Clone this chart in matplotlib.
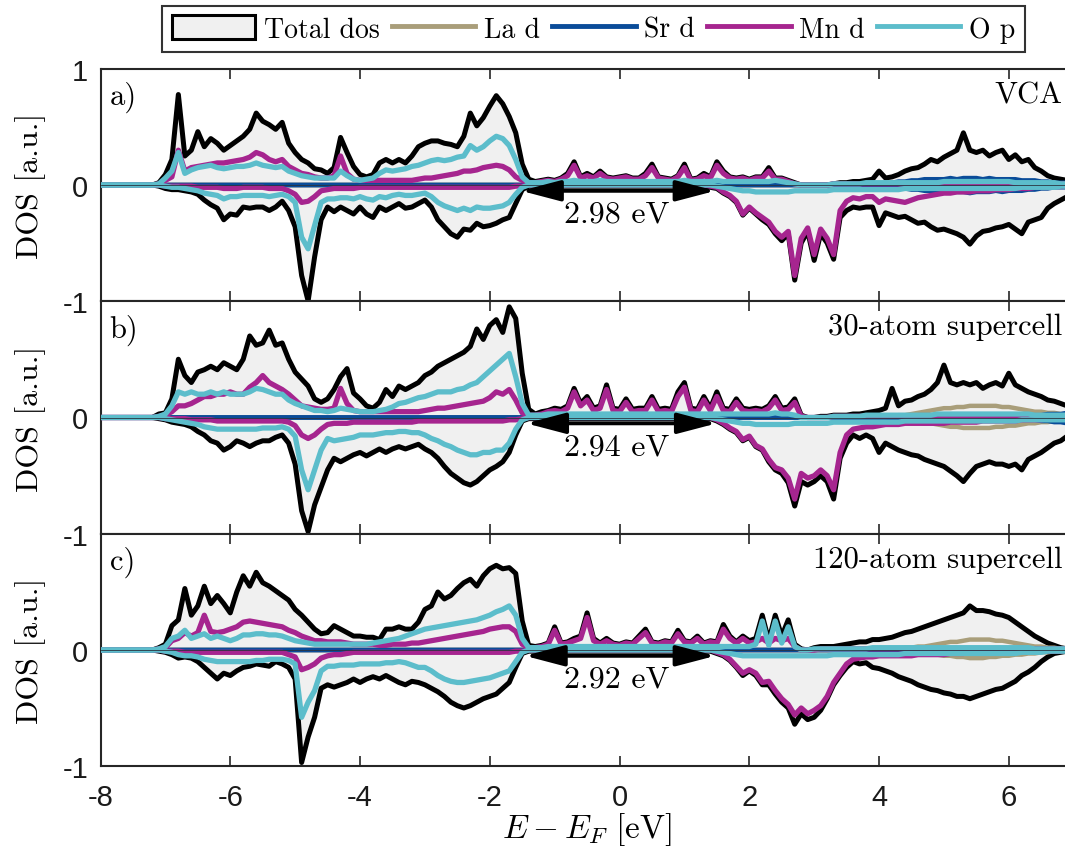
"""Spin-resolved DOS of La/Sr manganite: VCA vs. 30- and 120-atom supercells."""
import numpy as np
import matplotlib
matplotlib.use('Agg')
import matplotlib.pyplot as plt
from matplotlib.patches import Patch
from matplotlib.lines import Line2D

plt.rcParams['font.family'] = 'Liberation Sans'
plt.rcParams['mathtext.fontset'] = 'cm'
plt.rcParams['axes.unicode_minus'] = False

SERIF = 'cmr10'
C_TOT, C_LA, C_SR, C_MN, C_O = '#F0F0F0', '#A99E7A', '#0A4C99', '#A6258F', '#5CBDCB'
INK = '#262626'

E = np.round(np.arange(-80, 71) / 10, 1)
VB0 = -7.1   # full-range lists start here (-7.1 .. 7.0, 142 values)
CB0 = 4.2    # La / Sr lists start here (4.2 .. 7.0, 29 values)

# ---------------------------------------------------------------- a) VCA
TOT_A_UP = [
    0.02, 0.09, 0.22, 0.78, 0.25, 0.30, 0.46, 0.33, 0.40, 0.36,
    0.30, 0.34, 0.38, 0.42, 0.48, 0.62, 0.55, 0.52, 0.48, 0.54,
    0.36, 0.28, 0.22, 0.19, 0.14, 0.13, 0.10, 0.15, 0.41, 0.28,
    0.16, 0.09, 0.07, 0.09, 0.19, 0.22, 0.19, 0.22, 0.19, 0.25,
    0.33, 0.36, 0.38, 0.38, 0.36, 0.35, 0.33, 0.42, 0.62, 0.51,
    0.58, 0.68, 0.77, 0.70, 0.59, 0.45, 0.18, 0.05, 0.03, 0.04,
    0.05, 0.04, 0.06, 0.10, 0.20, 0.07, 0.10, 0.07, 0.12, 0.07,
    0.06, 0.07, 0.08, 0.06, 0.06, 0.10, 0.18, 0.07, 0.06, 0.05,
    0.08, 0.18, 0.05, 0.06, 0.10, 0.07, 0.20, 0.12, 0.07, 0.06,
    0.07, 0.05, 0.07, 0.07, 0.15, 0.06, 0.06, 0.04, 0.02, 0.00,
    0.00, 0.00, 0.00, 0.00, 0.01, 0.02, 0.02, 0.03, 0.03, 0.04,
    0.05, 0.12, 0.06, 0.07, 0.09, 0.12, 0.14, 0.15, 0.18, 0.22,
    0.20, 0.24, 0.27, 0.30, 0.45, 0.30, 0.28, 0.30, 0.25, 0.28,
    0.30, 0.22, 0.26, 0.20, 0.22, 0.15, 0.12, 0.08, 0.06, 0.05,
    0.04, 0.03]
TOT_A_DN = [
    -0.01, -0.03, -0.04, -0.04, -0.05, -0.06, -0.08, -0.13, -0.17, -0.20,
    -0.30, -0.25, -0.26, -0.19, -0.20, -0.19, -0.19, -0.22, -0.19, -0.14,
    -0.22, -0.36, -0.78, -1.00, -0.62, -0.30, -0.19, -0.23, -0.19, -0.22,
    -0.25, -0.19, -0.25, -0.28, -0.19, -0.22, -0.19, -0.16, -0.20, -0.19,
    -0.16, -0.13, -0.19, -0.30, -0.36, -0.42, -0.45, -0.38, -0.39, -0.33,
    -0.36, -0.35, -0.33, -0.30, -0.28, -0.16, -0.04, -0.01, -0.01, -0.01,
    -0.01, -0.01, -0.01, -0.01, -0.01, -0.01, -0.01, -0.01, -0.01, -0.01,
    -0.01, -0.01, -0.01, -0.01, -0.01, -0.01, -0.01, -0.01, -0.01, -0.01,
    -0.01, -0.01, -0.01, -0.01, -0.01, -0.02, -0.03, -0.07, -0.10, -0.15,
    -0.26, -0.20, -0.25, -0.30, -0.34, -0.42, -0.48, -0.42, -0.82, -0.50,
    -0.40, -0.65, -0.42, -0.50, -0.64, -0.28, -0.22, -0.19, -0.20, -0.19,
    -0.19, -0.35, -0.24, -0.26, -0.28, -0.27, -0.30, -0.33, -0.32, -0.36,
    -0.39, -0.38, -0.40, -0.42, -0.45, -0.51, -0.44, -0.40, -0.39, -0.37,
    -0.36, -0.34, -0.38, -0.42, -0.32, -0.30, -0.28, -0.20, -0.16, -0.13,
    -0.10, -0.08]
MN_A_UP = [
    0.01, 0.04, 0.07, 0.30, 0.12, 0.15, 0.16, 0.17, 0.18, 0.19,
    0.19, 0.20, 0.21, 0.22, 0.24, 0.28, 0.26, 0.22, 0.20, 0.22,
    0.16, 0.13, 0.10, 0.09, 0.07, 0.06, 0.06, 0.08, 0.25, 0.10,
    0.05, 0.04, 0.04, 0.04, 0.04, 0.04, 0.04, 0.04, 0.04, 0.04,
    0.05, 0.06, 0.06, 0.07, 0.08, 0.09, 0.10, 0.12, 0.12, 0.13,
    0.15, 0.16, 0.17, 0.16, 0.13, 0.07, 0.04, 0.02, 0.02, 0.03,
    0.04, 0.03, 0.05, 0.08, 0.17, 0.06, 0.08, 0.06, 0.10, 0.06,
    0.05, 0.06, 0.07, 0.05, 0.05, 0.08, 0.15, 0.06, 0.05, 0.04,
    0.07, 0.15, 0.04, 0.05, 0.08, 0.06, 0.17, 0.10, 0.06, 0.05,
    0.06, 0.04, 0.06, 0.06, 0.12, 0.05, 0.05, 0.03, 0.01, 0.00,
    0.00, 0.00, 0.00, 0.00, 0.01, 0.01, 0.01, 0.01, 0.01, 0.01,
    0.01, 0.01, 0.01, 0.01, 0.01, 0.01, 0.01, 0.01, 0.01, 0.01,
    0.01, 0.01, 0.01, 0.01, 0.01, 0.01, 0.01, 0.01, 0.01, 0.01,
    0.01, 0.01, 0.01, 0.01, 0.01, 0.01, 0.01, 0.01, 0.01, 0.01,
    0.01, 0.01]
MN_A_DN = [
    0.00, -0.01, -0.01, -0.01, -0.01, -0.01, -0.02, -0.02, -0.02, -0.02,
    -0.03, -0.03, -0.03, -0.02, -0.02, -0.02, -0.02, -0.03, -0.03, -0.03,
    -0.05, -0.08, -0.15, -0.14, -0.10, -0.05, -0.04, -0.03, -0.03, -0.03,
    -0.03, -0.02, -0.02, -0.02, -0.02, -0.02, -0.02, -0.02, -0.02, -0.02,
    -0.02, -0.02, -0.02, -0.02, -0.02, -0.02, -0.02, -0.02, -0.02, -0.02,
    -0.02, -0.02, -0.02, -0.02, -0.02, -0.01, -0.01, 0.00, 0.00, 0.00,
    0.00, 0.00, 0.00, 0.00, 0.00, 0.00, 0.00, 0.00, 0.00, 0.00,
    0.00, 0.00, 0.00, 0.00, 0.00, 0.00, 0.00, 0.00, 0.00, 0.00,
    0.00, 0.00, 0.00, 0.00, 0.00, -0.01, -0.02, -0.06, -0.09, -0.14,
    -0.25, -0.19, -0.24, -0.28, -0.32, -0.40, -0.45, -0.40, -0.78, -0.46,
    -0.37, -0.60, -0.38, -0.46, -0.60, -0.22, -0.14, -0.11, -0.12, -0.10,
    -0.10, -0.15, -0.12, -0.13, -0.14, -0.15, -0.13, -0.11, -0.10, -0.09,
    -0.08, -0.07, -0.07, -0.06, -0.06, -0.06, -0.05, -0.05, -0.05, -0.04,
    -0.04, -0.04, -0.03, -0.03, -0.03, -0.02, -0.02, -0.02, -0.01, -0.01,
    -0.01, -0.01]
O_A_UP = [
    0.01, 0.06, 0.12, 0.28, 0.10, 0.13, 0.15, 0.16, 0.17, 0.15,
    0.14, 0.15, 0.16, 0.16, 0.17, 0.19, 0.17, 0.16, 0.15, 0.16,
    0.12, 0.10, 0.08, 0.07, 0.06, 0.06, 0.06, 0.06, 0.12, 0.08,
    0.05, 0.04, 0.05, 0.06, 0.10, 0.13, 0.12, 0.13, 0.14, 0.16,
    0.17, 0.19, 0.21, 0.22, 0.21, 0.22, 0.24, 0.25, 0.34, 0.30,
    0.33, 0.38, 0.42, 0.40, 0.34, 0.22, 0.07, 0.02, 0.02, 0.02,
    0.03, 0.02, 0.03, 0.03, 0.04, 0.03, 0.03, 0.03, 0.04, 0.03,
    0.03, 0.03, 0.03, 0.03, 0.03, 0.03, 0.03, 0.03, 0.03, 0.03,
    0.03, 0.04, 0.03, 0.03, 0.03, 0.03, 0.04, 0.03, 0.03, 0.03,
    0.03, 0.03, 0.03, 0.03, 0.03, 0.04, 0.03, 0.02, 0.01, 0.00,
    0.00, 0.00, 0.00, 0.00, 0.01, 0.01, 0.01, 0.01, 0.01, 0.02,
    0.02, 0.02, 0.02, 0.02, 0.02, 0.02, 0.02, 0.02, 0.02, 0.02,
    0.02, 0.03, 0.03, 0.03, 0.03, 0.03, 0.03, 0.03, 0.03, 0.03,
    0.03, 0.03, 0.02, 0.02, 0.02, 0.02, 0.02, 0.02, 0.02, 0.01,
    0.01, 0.01]
O_A_DN = [
    0.00, -0.01, -0.02, -0.02, -0.03, -0.04, -0.05, -0.07, -0.08, -0.09,
    -0.12, -0.10, -0.10, -0.09, -0.09, -0.09, -0.09, -0.10, -0.09, -0.08,
    -0.10, -0.15, -0.45, -0.55, -0.35, -0.15, -0.12, -0.12, -0.11, -0.11,
    -0.12, -0.10, -0.12, -0.13, -0.10, -0.11, -0.09, -0.08, -0.09, -0.09,
    -0.08, -0.07, -0.10, -0.15, -0.18, -0.20, -0.22, -0.20, -0.22, -0.19,
    -0.20, -0.20, -0.19, -0.18, -0.15, -0.08, -0.02, 0.00, 0.00, 0.00,
    0.00, 0.00, 0.00, 0.00, 0.00, 0.00, 0.00, 0.00, 0.00, 0.00,
    0.00, 0.00, 0.00, 0.00, 0.00, 0.00, 0.00, 0.00, 0.00, 0.00,
    0.00, 0.00, 0.00, 0.00, 0.00, 0.00, -0.01, -0.02, -0.03, -0.04,
    -0.05, -0.05, -0.06, -0.06, -0.06, -0.06, -0.06, -0.06, -0.05, -0.05,
    -0.05, -0.05, -0.05, -0.05, -0.04, -0.04, -0.04, -0.04, -0.04, -0.04,
    -0.04, -0.04, -0.04, -0.04, -0.04, -0.03, -0.03, -0.03, -0.03, -0.03,
    -0.03, -0.03, -0.03, -0.03, -0.03, -0.03, -0.03, -0.03, -0.03, -0.03,
    -0.03, -0.03, -0.03, -0.02, -0.02, -0.02, -0.02, -0.02, -0.02, -0.01,
    -0.01, -0.01]
LA_A_UP = [0.00, 0.00, 0.00, 0.01, 0.01, 0.01, 0.01, 0.01, 0.02, 0.02,
           0.02, 0.02, 0.02, 0.02, 0.02, 0.02, 0.02, 0.02, 0.01, 0.01,
           0.01, 0.01, 0.01, 0.01, 0.01, 0.00, 0.00, 0.00, 0.00]
LA_A_DN = [0.00, 0.00, 0.00, -0.01, -0.01, -0.01, -0.01, -0.01, -0.02, -0.02,
           -0.02, -0.02, -0.02, -0.02, -0.02, -0.02, -0.02, -0.02, -0.01, -0.01,
           -0.01, -0.01, -0.01, -0.01, -0.01, 0.00, 0.00, 0.00, 0.00]
SR_A_UP = [0.02, 0.03, 0.03, 0.04, 0.04, 0.05, 0.05, 0.05, 0.05, 0.06,
           0.05, 0.06, 0.06, 0.06, 0.05, 0.06, 0.05, 0.05, 0.05, 0.05,
           0.04, 0.04, 0.04, 0.03, 0.03, 0.02, 0.02, 0.02, 0.01]
SR_A_DN = [-0.02, -0.03, -0.03, -0.04, -0.04, -0.05, -0.05, -0.05, -0.05, -0.06,
           -0.06, -0.06, -0.07, -0.06, -0.06, -0.06, -0.05, -0.06, -0.05, -0.05,
           -0.05, -0.04, -0.04, -0.03, -0.03, -0.02, -0.02, -0.02, -0.01]

# ---------------------------------------------------------------- b) 30-atom supercell
TOT_B_UP = [
    0.03, 0.04, 0.16, 0.50, 0.36, 0.30, 0.39, 0.41, 0.44, 0.41,
    0.47, 0.44, 0.41, 0.50, 0.70, 0.62, 0.64, 0.75, 0.62, 0.64,
    0.50, 0.39, 0.33, 0.27, 0.16, 0.13, 0.16, 0.24, 0.35, 0.42,
    0.21, 0.16, 0.10, 0.08, 0.13, 0.24, 0.18, 0.27, 0.24, 0.27,
    0.30, 0.36, 0.39, 0.44, 0.47, 0.50, 0.53, 0.56, 0.61, 0.76,
    0.67, 0.79, 0.84, 0.73, 0.95, 0.85, 0.38, 0.07, 0.03, 0.05,
    0.06, 0.08, 0.07, 0.10, 0.25, 0.12, 0.18, 0.08, 0.10, 0.28,
    0.08, 0.07, 0.16, 0.07, 0.08, 0.08, 0.18, 0.07, 0.08, 0.07,
    0.22, 0.30, 0.08, 0.07, 0.18, 0.08, 0.22, 0.08, 0.07, 0.16,
    0.08, 0.07, 0.08, 0.07, 0.10, 0.18, 0.08, 0.09, 0.16, 0.02,
    0.00, 0.00, 0.01, 0.01, 0.02, 0.02, 0.02, 0.03, 0.03, 0.04,
    0.05, 0.06, 0.08, 0.25, 0.10, 0.14, 0.15, 0.18, 0.20, 0.24,
    0.30, 0.45, 0.30, 0.28, 0.30, 0.28, 0.30, 0.25, 0.28, 0.30,
    0.27, 0.38, 0.28, 0.25, 0.22, 0.20, 0.18, 0.15, 0.14, 0.12,
    0.10, 0.10]
TOT_B_DN = [
    -0.01, -0.02, -0.04, -0.05, -0.06, -0.08, -0.12, -0.15, -0.20, -0.22,
    -0.28, -0.25, -0.20, -0.22, -0.25, -0.22, -0.20, -0.20, -0.17, -0.15,
    -0.22, -0.40, -0.80, -0.98, -0.75, -0.60, -0.45, -0.35, -0.38, -0.35,
    -0.32, -0.30, -0.33, -0.30, -0.27, -0.30, -0.27, -0.25, -0.27, -0.25,
    -0.23, -0.27, -0.30, -0.35, -0.42, -0.48, -0.52, -0.56, -0.58, -0.55,
    -0.50, -0.45, -0.42, -0.38, -0.30, -0.15, -0.03, -0.01, -0.01, -0.01,
    -0.01, -0.01, -0.01, -0.01, -0.01, -0.01, -0.01, -0.01, -0.01, -0.01,
    -0.01, -0.01, -0.01, -0.01, -0.01, -0.01, -0.01, -0.01, -0.01, -0.01,
    -0.01, -0.01, -0.01, -0.01, -0.01, -0.01, -0.03, -0.06, -0.10, -0.13,
    -0.20, -0.17, -0.25, -0.28, -0.38, -0.45, -0.48, -0.56, -0.76, -0.55,
    -0.58, -0.55, -0.50, -0.55, -0.70, -0.35, -0.22, -0.15, -0.18, -0.15,
    -0.18, -0.30, -0.22, -0.25, -0.28, -0.30, -0.32, -0.33, -0.36, -0.38,
    -0.40, -0.42, -0.46, -0.50, -0.55, -0.48, -0.42, -0.40, -0.38, -0.40,
    -0.40, -0.42, -0.40, -0.45, -0.36, -0.33, -0.30, -0.26, -0.22, -0.20,
    -0.16, -0.15]
MN_B_UP = [
    0.01, 0.02, 0.05, 0.10, 0.10, 0.12, 0.15, 0.18, 0.18, 0.20,
    0.20, 0.22, 0.20, 0.20, 0.26, 0.30, 0.36, 0.30, 0.27, 0.24,
    0.20, 0.15, 0.10, 0.09, 0.08, 0.07, 0.07, 0.08, 0.25, 0.12,
    0.06, 0.05, 0.05, 0.05, 0.05, 0.05, 0.05, 0.05, 0.05, 0.05,
    0.05, 0.06, 0.07, 0.08, 0.08, 0.09, 0.10, 0.11, 0.12, 0.13,
    0.14, 0.17, 0.22, 0.20, 0.24, 0.15, 0.04, 0.02, 0.02, 0.03,
    0.05, 0.06, 0.05, 0.08, 0.22, 0.10, 0.15, 0.06, 0.08, 0.24,
    0.06, 0.05, 0.13, 0.05, 0.06, 0.06, 0.15, 0.05, 0.06, 0.05,
    0.18, 0.26, 0.06, 0.05, 0.15, 0.06, 0.18, 0.06, 0.05, 0.13,
    0.06, 0.05, 0.06, 0.05, 0.08, 0.15, 0.06, 0.07, 0.13, 0.01,
    0.00, 0.00, 0.00, 0.00, 0.01, 0.01, 0.01, 0.01, 0.01, 0.01,
    0.01, 0.01, 0.01, 0.01, 0.01, 0.01, 0.01, 0.01, 0.01, 0.01,
    0.01, 0.01, 0.01, 0.01, 0.01, 0.01, 0.01, 0.01, 0.01, 0.01,
    0.01, 0.01, 0.01, 0.01, 0.01, 0.01, 0.01, 0.01, 0.01, 0.01,
    0.01, 0.01]
MN_B_DN = [
    0.00, -0.01, -0.01, -0.01, -0.01, -0.02, -0.02, -0.02, -0.02, -0.03,
    -0.03, -0.03, -0.03, -0.03, -0.03, -0.03, -0.03, -0.03, -0.03, -0.03,
    -0.04, -0.07, -0.15, -0.18, -0.15, -0.10, -0.06, -0.05, -0.05, -0.05,
    -0.04, -0.04, -0.04, -0.04, -0.04, -0.04, -0.04, -0.04, -0.04, -0.04,
    -0.03, -0.03, -0.03, -0.03, -0.03, -0.03, -0.03, -0.03, -0.03, -0.03,
    -0.03, -0.03, -0.03, -0.03, -0.02, -0.02, -0.01, 0.00, 0.00, 0.00,
    0.00, 0.00, 0.00, 0.00, 0.00, 0.00, 0.00, 0.00, 0.00, 0.00,
    0.00, 0.00, 0.00, 0.00, 0.00, 0.00, 0.00, 0.00, 0.00, 0.00,
    0.00, 0.00, 0.00, 0.00, 0.00, 0.00, -0.02, -0.05, -0.09, -0.12,
    -0.19, -0.16, -0.24, -0.27, -0.36, -0.43, -0.45, -0.52, -0.70, -0.48,
    -0.52, -0.50, -0.45, -0.50, -0.62, -0.30, -0.15, -0.10, -0.09, -0.08,
    -0.08, -0.07, -0.06, -0.06, -0.06, -0.05, -0.05, -0.05, -0.05, -0.05,
    -0.05, -0.05, -0.04, -0.04, -0.04, -0.04, -0.04, -0.03, -0.03, -0.03,
    -0.03, -0.03, -0.03, -0.02, -0.02, -0.02, -0.02, -0.01, -0.01, -0.01,
    -0.01, -0.01]
O_B_UP = [
    0.01, 0.03, 0.10, 0.22, 0.20, 0.22, 0.20, 0.20, 0.22, 0.20,
    0.22, 0.20, 0.20, 0.20, 0.22, 0.25, 0.24, 0.22, 0.20, 0.20,
    0.15, 0.12, 0.10, 0.08, 0.06, 0.06, 0.05, 0.06, 0.08, 0.07,
    0.06, 0.05, 0.05, 0.05, 0.06, 0.07, 0.09, 0.12, 0.13, 0.15,
    0.17, 0.18, 0.20, 0.22, 0.22, 0.22, 0.24, 0.25, 0.28, 0.30,
    0.35, 0.40, 0.45, 0.50, 0.55, 0.35, 0.12, 0.02, 0.02, 0.02,
    0.03, 0.03, 0.03, 0.03, 0.03, 0.03, 0.03, 0.03, 0.03, 0.03,
    0.03, 0.03, 0.03, 0.03, 0.03, 0.03, 0.03, 0.03, 0.03, 0.03,
    0.03, 0.03, 0.03, 0.03, 0.03, 0.03, 0.03, 0.03, 0.03, 0.03,
    0.03, 0.03, 0.03, 0.03, 0.03, 0.04, 0.03, 0.03, 0.02, 0.00,
    0.00, 0.00, 0.00, 0.00, 0.01, 0.01, 0.01, 0.01, 0.01, 0.02,
    0.02, 0.02, 0.02, 0.02, 0.02, 0.02, 0.02, 0.02, 0.02, 0.02,
    0.03, 0.03, 0.03, 0.03, 0.03, 0.03, 0.03, 0.03, 0.03, 0.03,
    0.03, 0.03, 0.03, 0.03, 0.03, 0.02, 0.02, 0.02, 0.02, 0.02,
    0.02, 0.02]
O_B_DN = [
    0.00, -0.01, -0.02, -0.03, -0.04, -0.05, -0.06, -0.08, -0.09, -0.10,
    -0.10, -0.10, -0.10, -0.10, -0.10, -0.10, -0.09, -0.09, -0.09, -0.08,
    -0.10, -0.16, -0.45, -0.62, -0.45, -0.28, -0.18, -0.20, -0.19, -0.18,
    -0.17, -0.15, -0.15, -0.15, -0.14, -0.13, -0.13, -0.12, -0.12, -0.13,
    -0.13, -0.15, -0.18, -0.20, -0.23, -0.25, -0.28, -0.30, -0.32, -0.32,
    -0.30, -0.30, -0.28, -0.28, -0.22, -0.10, -0.02, 0.00, 0.00, 0.00,
    0.00, 0.00, 0.00, 0.00, 0.00, 0.00, 0.00, 0.00, 0.00, 0.00,
    0.00, 0.00, 0.00, 0.00, 0.00, 0.00, 0.00, 0.00, 0.00, 0.00,
    0.00, 0.00, 0.00, 0.00, 0.00, 0.00, -0.01, -0.02, -0.03, -0.04,
    -0.05, -0.05, -0.06, -0.06, -0.06, -0.06, -0.06, -0.06, -0.05, -0.05,
    -0.05, -0.05, -0.05, -0.05, -0.04, -0.04, -0.04, -0.04, -0.04, -0.04,
    -0.04, -0.04, -0.04, -0.04, -0.04, -0.03, -0.03, -0.03, -0.03, -0.03,
    -0.03, -0.03, -0.03, -0.03, -0.03, -0.03, -0.03, -0.03, -0.03, -0.03,
    -0.03, -0.03, -0.03, -0.02, -0.02, -0.02, -0.02, -0.02, -0.02, -0.02,
    -0.02, -0.02]
LA_B_UP = [0.01, 0.02, 0.02, 0.03, 0.04, 0.05, 0.06, 0.07, 0.08, 0.08,
           0.09, 0.09, 0.10, 0.10, 0.10, 0.10, 0.10, 0.09, 0.09, 0.08,
           0.07, 0.06, 0.05, 0.05, 0.04, 0.04, 0.03, 0.03, 0.03]
LA_B_DN = [-0.01, -0.02, -0.02, -0.03, -0.04, -0.05, -0.05, -0.06, -0.07, -0.08,
           -0.08, -0.09, -0.09, -0.09, -0.09, -0.09, -0.08, -0.08, -0.07, -0.07,
           -0.06, -0.05, -0.05, -0.04, -0.04, -0.03, -0.03, -0.03, -0.02]
SR_B_UP = [0.01, 0.01, 0.01, 0.01, 0.02, 0.02, 0.02, 0.02, 0.02, 0.02,
           0.02, 0.02, 0.02, 0.02, 0.02, 0.02, 0.02, 0.02, 0.02, 0.02,
           0.02, 0.02, 0.02, 0.02, 0.03, 0.03, 0.03, 0.04, 0.04]
SR_B_DN = [-0.01, -0.01, -0.01, -0.01, -0.02, -0.02, -0.02, -0.02, -0.02, -0.02,
           -0.02, -0.02, -0.02, -0.02, -0.02, -0.02, -0.02, -0.02, -0.02, -0.02,
           -0.02, -0.02, -0.02, -0.03, -0.03, -0.04, -0.04, -0.05, -0.05]

# ---------------------------------------------------------------- c) 120-atom supercell
TOT_C_UP = [
    0.02, 0.05, 0.21, 0.26, 0.53, 0.30, 0.38, 0.55, 0.40, 0.47,
    0.40, 0.32, 0.50, 0.64, 0.55, 0.67, 0.58, 0.55, 0.51, 0.47,
    0.43, 0.35, 0.30, 0.24, 0.18, 0.14, 0.15, 0.21, 0.18, 0.15,
    0.12, 0.12, 0.11, 0.11, 0.09, 0.18, 0.18, 0.20, 0.18, 0.18,
    0.24, 0.35, 0.38, 0.50, 0.44, 0.47, 0.53, 0.58, 0.61, 0.55,
    0.64, 0.70, 0.73, 0.70, 0.71, 0.66, 0.25, 0.04, 0.03, 0.04,
    0.06, 0.20, 0.06, 0.07, 0.10, 0.12, 0.32, 0.10, 0.06, 0.10,
    0.06, 0.05, 0.07, 0.06, 0.12, 0.18, 0.07, 0.06, 0.08, 0.07,
    0.17, 0.08, 0.07, 0.12, 0.06, 0.08, 0.07, 0.22, 0.12, 0.07,
    0.12, 0.08, 0.10, 0.30, 0.08, 0.30, 0.12, 0.26, 0.05, 0.01,
    0.00, 0.02, 0.03, 0.03, 0.03, 0.04, 0.05, 0.06, 0.07, 0.07,
    0.09, 0.09, 0.10, 0.11, 0.13, 0.15, 0.16, 0.18, 0.20, 0.22,
    0.24, 0.26, 0.28, 0.30, 0.32, 0.38, 0.34, 0.34, 0.33, 0.31,
    0.30, 0.28, 0.24, 0.20, 0.16, 0.12, 0.09, 0.06, 0.04, 0.02,
    0.01, 0.00]
TOT_C_DN = [
    -0.01, -0.02, -0.04, -0.07, -0.06, -0.07, -0.10, -0.15, -0.20, -0.25,
    -0.20, -0.22, -0.18, -0.15, -0.14, -0.12, -0.13, -0.14, -0.10, -0.12,
    -0.15, -0.25, -0.97, -0.75, -0.58, -0.33, -0.30, -0.32, -0.30, -0.28,
    -0.25, -0.28, -0.25, -0.23, -0.25, -0.22, -0.25, -0.28, -0.30, -0.27,
    -0.28, -0.30, -0.33, -0.36, -0.40, -0.45, -0.48, -0.50, -0.48, -0.45,
    -0.42, -0.40, -0.38, -0.33, -0.28, -0.15, -0.03, -0.01, -0.01, -0.01,
    -0.01, -0.01, -0.01, -0.01, -0.01, -0.01, -0.01, -0.01, -0.01, -0.01,
    -0.01, -0.01, -0.01, -0.01, -0.01, -0.01, -0.01, -0.01, -0.01, -0.01,
    -0.01, -0.01, -0.01, -0.01, -0.01, -0.01, -0.03, -0.05, -0.09, -0.15,
    -0.22, -0.18, -0.22, -0.30, -0.30, -0.38, -0.45, -0.50, -0.64, -0.55,
    -0.60, -0.58, -0.52, -0.42, -0.30, -0.22, -0.15, -0.10, -0.12, -0.11,
    -0.15, -0.16, -0.18, -0.20, -0.23, -0.25, -0.27, -0.30, -0.32, -0.34,
    -0.35, -0.37, -0.38, -0.40, -0.40, -0.42, -0.40, -0.38, -0.36, -0.34,
    -0.33, -0.30, -0.27, -0.22, -0.19, -0.15, -0.10, -0.06, -0.03, -0.02,
    -0.01, 0.00]
MN_C_UP = [
    0.01, 0.02, 0.08, 0.10, 0.15, 0.12, 0.15, 0.30, 0.16, 0.15,
    0.16, 0.18, 0.20, 0.24, 0.25, 0.24, 0.23, 0.22, 0.21, 0.20,
    0.17, 0.15, 0.12, 0.10, 0.08, 0.08, 0.07, 0.07, 0.07, 0.06,
    0.05, 0.05, 0.05, 0.05, 0.04, 0.04, 0.05, 0.05, 0.05, 0.06,
    0.06, 0.07, 0.08, 0.09, 0.10, 0.11, 0.12, 0.13, 0.14, 0.15,
    0.16, 0.18, 0.19, 0.20, 0.20, 0.16, 0.05, 0.02, 0.02, 0.03,
    0.05, 0.17, 0.05, 0.06, 0.08, 0.10, 0.28, 0.08, 0.05, 0.08,
    0.05, 0.04, 0.06, 0.05, 0.10, 0.15, 0.06, 0.05, 0.07, 0.06,
    0.14, 0.07, 0.06, 0.10, 0.05, 0.07, 0.06, 0.18, 0.10, 0.06,
    0.10, 0.06, 0.07, 0.10, 0.06, 0.10, 0.08, 0.10, 0.03, 0.00,
    0.00, 0.00, 0.01, 0.01, 0.01, 0.01, 0.01, 0.01, 0.01, 0.01,
    0.01, 0.01, 0.01, 0.01, 0.01, 0.01, 0.01, 0.01, 0.01, 0.01,
    0.01, 0.01, 0.01, 0.01, 0.01, 0.01, 0.01, 0.01, 0.01, 0.01,
    0.01, 0.01, 0.01, 0.01, 0.01, 0.01, 0.01, 0.01, 0.01, 0.01,
    0.01, 0.00]
MN_C_DN = [
    0.00, -0.01, -0.01, -0.01, -0.02, -0.02, -0.02, -0.02, -0.02, -0.02,
    -0.02, -0.02, -0.02, -0.02, -0.02, -0.02, -0.02, -0.02, -0.02, -0.02,
    -0.04, -0.06, -0.17, -0.15, -0.12, -0.07, -0.05, -0.04, -0.04, -0.03,
    -0.02, -0.02, -0.02, -0.02, -0.02, -0.02, -0.02, -0.02, -0.02, -0.02,
    -0.02, -0.02, -0.02, -0.02, -0.02, -0.02, -0.02, -0.02, -0.02, -0.02,
    -0.02, -0.02, -0.02, -0.02, -0.02, -0.01, -0.01, 0.00, 0.00, 0.00,
    0.00, 0.00, 0.00, 0.00, 0.00, 0.00, 0.00, 0.00, 0.00, 0.00,
    0.00, 0.00, 0.00, 0.00, 0.00, 0.00, 0.00, 0.00, 0.00, 0.00,
    0.00, 0.00, 0.00, 0.00, 0.00, 0.00, -0.02, -0.04, -0.08, -0.14,
    -0.20, -0.17, -0.20, -0.28, -0.27, -0.35, -0.42, -0.47, -0.56, -0.50,
    -0.55, -0.52, -0.48, -0.40, -0.28, -0.20, -0.12, -0.08, -0.07, -0.06,
    -0.06, -0.05, -0.05, -0.05, -0.05, -0.05, -0.05, -0.04, -0.04, -0.04,
    -0.04, -0.04, -0.03, -0.03, -0.03, -0.02, -0.02, -0.02, -0.02, -0.01,
    -0.01, -0.01, -0.01, -0.01, -0.01, -0.01, -0.01, -0.01, -0.01, -0.01,
    0.00, 0.00]
O_C_UP = [
    0.01, 0.03, 0.10, 0.12, 0.17, 0.10, 0.12, 0.14, 0.10, 0.12,
    0.10, 0.08, 0.10, 0.13, 0.13, 0.14, 0.14, 0.13, 0.13, 0.12,
    0.10, 0.08, 0.07, 0.06, 0.05, 0.05, 0.05, 0.05, 0.05, 0.05,
    0.05, 0.05, 0.05, 0.06, 0.07, 0.08, 0.09, 0.10, 0.12, 0.14,
    0.16, 0.18, 0.19, 0.20, 0.21, 0.22, 0.23, 0.24, 0.25, 0.26,
    0.28, 0.30, 0.33, 0.35, 0.38, 0.30, 0.10, 0.02, 0.02, 0.02,
    0.03, 0.03, 0.03, 0.03, 0.03, 0.03, 0.03, 0.03, 0.03, 0.03,
    0.03, 0.03, 0.03, 0.03, 0.03, 0.03, 0.03, 0.03, 0.03, 0.03,
    0.03, 0.03, 0.03, 0.03, 0.03, 0.03, 0.03, 0.03, 0.03, 0.03,
    0.03, 0.03, 0.05, 0.25, 0.04, 0.25, 0.06, 0.20, 0.03, 0.00,
    0.00, 0.01, 0.01, 0.01, 0.01, 0.01, 0.01, 0.01, 0.01, 0.01,
    0.02, 0.02, 0.02, 0.02, 0.02, 0.02, 0.02, 0.02, 0.02, 0.02,
    0.02, 0.02, 0.02, 0.02, 0.02, 0.02, 0.02, 0.02, 0.02, 0.02,
    0.02, 0.02, 0.02, 0.02, 0.02, 0.01, 0.01, 0.01, 0.01, 0.01,
    0.01, 0.00]
O_C_DN = [
    0.00, -0.01, -0.02, -0.04, -0.05, -0.05, -0.06, -0.08, -0.09, -0.10,
    -0.10, -0.10, -0.10, -0.10, -0.10, -0.09, -0.09, -0.08, -0.08, -0.08,
    -0.09, -0.12, -0.58, -0.45, -0.35, -0.18, -0.14, -0.14, -0.13, -0.13,
    -0.13, -0.12, -0.12, -0.12, -0.12, -0.11, -0.11, -0.10, -0.11, -0.13,
    -0.15, -0.15, -0.18, -0.22, -0.25, -0.27, -0.28, -0.28, -0.27, -0.26,
    -0.25, -0.24, -0.22, -0.20, -0.18, -0.10, -0.02, 0.00, 0.00, 0.00,
    0.00, 0.00, 0.00, 0.00, 0.00, 0.00, 0.00, 0.00, 0.00, 0.00,
    0.00, 0.00, 0.00, 0.00, 0.00, 0.00, 0.00, 0.00, 0.00, 0.00,
    0.00, 0.00, 0.00, 0.00, 0.00, 0.00, -0.01, -0.02, -0.03, -0.04,
    -0.05, -0.05, -0.05, -0.05, -0.05, -0.05, -0.05, -0.05, -0.05, -0.05,
    -0.05, -0.05, -0.05, -0.05, -0.04, -0.04, -0.04, -0.04, -0.04, -0.04,
    -0.04, -0.04, -0.04, -0.04, -0.04, -0.03, -0.03, -0.03, -0.03, -0.03,
    -0.03, -0.03, -0.03, -0.03, -0.03, -0.03, -0.03, -0.03, -0.03, -0.03,
    -0.03, -0.03, -0.03, -0.02, -0.02, -0.02, -0.02, -0.01, -0.01, -0.01,
    -0.01, 0.00]
LA_C_UP = [0.01, 0.01, 0.02, 0.02, 0.03, 0.03, 0.04, 0.05, 0.06, 0.07,
           0.07, 0.08, 0.09, 0.09, 0.09, 0.09, 0.08, 0.08, 0.07, 0.06,
           0.05, 0.04, 0.03, 0.03, 0.02, 0.02, 0.01, 0.01, 0.00]
LA_C_DN = [-0.01, -0.01, -0.01, -0.02, -0.02, -0.03, -0.03, -0.04, -0.05, -0.05,
           -0.06, -0.06, -0.07, -0.07, -0.07, -0.06, -0.06, -0.05, -0.05, -0.04,
           -0.04, -0.03, -0.03, -0.02, -0.02, -0.01, -0.01, -0.01, 0.00]
SR_C_UP = [0.00, 0.01, 0.01, 0.01, 0.01, 0.01, 0.01, 0.01, 0.01, 0.01,
           0.01, 0.01, 0.01, 0.01, 0.01, 0.01, 0.01, 0.01, 0.01, 0.01,
           0.01, 0.01, 0.01, 0.01, 0.01, 0.00, 0.00, 0.00, 0.00]
SR_C_DN = [0.00, -0.01, -0.01, -0.01, -0.01, -0.01, -0.01, -0.01, -0.01, -0.01,
           -0.01, -0.01, -0.01, -0.01, -0.01, -0.01, -0.01, -0.01, -0.01, -0.01,
           -0.01, -0.01, -0.01, -0.01, -0.01, 0.00, 0.00, 0.00, 0.00]

PANEL_LABELS = ['a)', 'b)', 'c)']
PANEL_TITLES = ['VCA', '30-atom supercell', '120-atom supercell']
GAP_TEXT = ['2.98 eV', '2.94 eV', '2.92 eV']
GAP_EDGES = [(-1.52, 1.48), (-1.44, 1.50), (-1.46, 1.48)]
LEGEND = ['Total dos', 'La d', 'Sr d', 'Mn d', 'O p']


def on_grid(vals, start):
    y = np.zeros(len(E))
    i = int(round((start - E[0]) * 10))
    y[i:i + len(vals)] = vals
    return y


panels = [
    dict(tot=(TOT_A_UP, TOT_A_DN), la=(LA_A_UP, LA_A_DN), sr=(SR_A_UP, SR_A_DN),
         mn=(MN_A_UP, MN_A_DN), o=(O_A_UP, O_A_DN)),
    dict(tot=(TOT_B_UP, TOT_B_DN), la=(LA_B_UP, LA_B_DN), sr=(SR_B_UP, SR_B_DN),
         mn=(MN_B_UP, MN_B_DN), o=(O_B_UP, O_B_DN)),
    dict(tot=(TOT_C_UP, TOT_C_DN), la=(LA_C_UP, LA_C_DN), sr=(SR_C_UP, SR_C_DN),
         mn=(MN_C_UP, MN_C_DN), o=(O_C_UP, O_C_DN)),
]
for p in panels:
    for key in ('tot', 'mn', 'o'):
        assert all(len(v) == 142 for v in p[key]), key
    for key in ('la', 'sr'):
        assert all(len(v) == 29 for v in p[key]), key

W, H = 1065, 854
fig = plt.figure(figsize=(W / 100, H / 100), dpi=100)
x0, x1 = 100.5, 1073.7
tops = [70, 302, 535, 767]

for k, p in enumerate(panels):
    ax = fig.add_axes([x0 / W, 1 - tops[k + 1] / H, (x1 - x0) / W, (tops[k + 1] - tops[k]) / H])
    for spin in (0, 1):
        tot = on_grid(p['tot'][spin], VB0)
        ax.fill_between(E, 0, tot, color=C_TOT, lw=0, zorder=1)
        ax.plot(E, tot, color='k', lw=3.6, zorder=2)
    for key, col in (('la', C_LA), ('sr', C_SR)):
        for spin in (0, 1):
            ax.plot(E, on_grid(p[key][spin], CB0), color=col, lw=3.2, zorder=3)
    for key, col in (('mn', C_MN), ('o', C_O)):
        for spin in (0, 1):
            ax.plot(E, on_grid(p[key][spin], VB0), color=col, lw=3.8, zorder=4)
    ax.axhline(0, color='#2a3440', lw=0.6, zorder=5)

    a, b = GAP_EDGES[k]
    ax.annotate('', xy=(b, -0.05), xytext=(a, -0.05), zorder=6,
                arrowprops=dict(arrowstyle='<|-|>,head_length=1.6,head_width=0.42',
                                mutation_scale=15, lw=2.8, color='k',
                                shrinkA=0, shrinkB=0))
    ax.text(-0.05, -0.25, GAP_TEXT[k], family=SERIF, fontsize=23, ha='center', va='center')
    ax.text(-7.86, 0.76, PANEL_LABELS[k], family=SERIF, fontsize=22, ha='left', va='center')
    ax.text(6.82, 0.78, PANEL_TITLES[k], family=SERIF, fontsize=22, ha='right', va='center')

    ax.set_xlim(-8, 7)
    ax.set_ylim(-1, 1)
    ax.set_xticks(np.arange(-8, 7, 2))
    if k == 2:
        ax.set_xticklabels([str(v) for v in range(-8, 7, 2)])
    else:
        ax.set_xticklabels([])
    if k == 0:
        ax.set_yticks([-1, 0, 1])
        ax.set_yticklabels(['-1', '0', '1'])
    else:
        ax.set_yticks([-1, 0])
        ax.set_yticklabels(['-1', '0'])
    ax.tick_params(axis='both', direction='in', length=7, width=1.2, color=INK,
                   labelsize=21, labelcolor='#1a1a1a', top=True)
    ax.tick_params(axis='y', pad=9)
    ax.tick_params(axis='x', pad=12)
    for s in ax.spines.values():
        s.set_color(INK)
        s.set_linewidth(1.5)

    yc = 1 - (tops[k] + tops[k + 1]) / 2 / H
    fig.text(31 / W, yc, 'DOS [a.u.]', family=SERIF, fontsize=23, rotation=90,
             ha='center', va='center')

fig.text(587 / W, 1 - 830 / H, r'$E - E_F\ [\mathrm{eV}]$', fontsize=24, ha='center', va='center')

handles = [Patch(facecolor=C_TOT, edgecolor='k', linewidth=2.2),
           Line2D([], [], color=C_LA, lw=3.5), Line2D([], [], color=C_SR, lw=3.5),
           Line2D([], [], color=C_MN, lw=3.5), Line2D([], [], color=C_O, lw=3.5)]
leg = fig.legend(handles, LEGEND, loc='center', bbox_to_anchor=(593.5 / W, 1 - 30 / H),
                 ncol=5, prop=dict(family=SERIF, size=20), frameon=True, fancybox=False,
                 handlelength=3.0, handleheight=0.9, handletextpad=0.3, columnspacing=0.45,
                 borderpad=0.35, borderaxespad=0)
leg.get_frame().set_edgecolor('k')
leg.get_frame().set_linewidth(1.5)

fig.savefig('out.png', dpi=100, facecolor='white')
